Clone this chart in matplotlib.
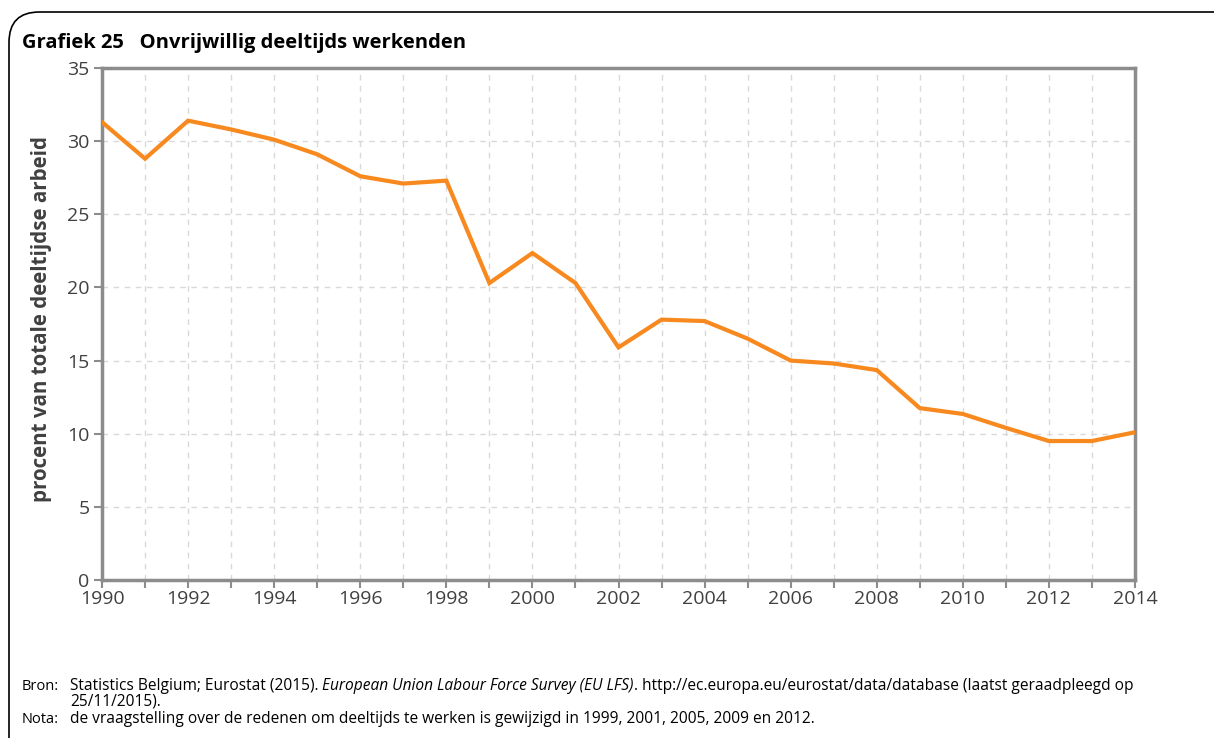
import matplotlib
matplotlib.use("Agg")
import matplotlib.pyplot as plt
from matplotlib.patches import FancyBboxPatch
from matplotlib.ticker import MultipleLocator

years = list(range(1990, 2015))
values = [31.3, 28.8, 31.4, 30.8, 30.1, 29.1, 27.6, 27.1, 27.3, 20.3,
          22.35, 20.3, 15.9, 17.8, 17.7, 16.5, 15.0, 14.8, 14.35, 11.75,
          11.35, 10.4, 9.5, 9.5, 10.1]
xtick_labels = [str(y) for y in range(1990, 2015, 2)]

W, H = 1214, 738
fig = plt.figure(figsize=(W / 100, H / 100), dpi=100)
plt.rcParams['font.family'] = ['Open Sans', 'DejaVu Sans']

# rounded frame
box = FancyBboxPatch((9 / W, 1 - 1000 / H), 1260 / W, (1000 - 12) / H,
                     boxstyle="round,pad=0,rounding_size=0.025",
                     transform=fig.transFigure, fill=False, edgecolor='black',
                     linewidth=1.2, mutation_aspect=W / H)
fig.patches.append(box)

ax = fig.add_axes([102 / W, 1 - 580 / H, (1135 - 102) / W, (580 - 68) / H])
ax.plot(years, values, color='#F7891F', linewidth=3, solid_joinstyle='miter', zorder=3)

ax.set_xlim(1990, 2014)
ax.set_ylim(0, 35)
ax.xaxis.set_minor_locator(MultipleLocator(1))
ax.yaxis.set_major_locator(MultipleLocator(5))
ax.set_xticks(range(1990, 2015, 2))
ax.set_xticklabels(xtick_labels)

ax.grid(which='both', axis='x', color='#d9d9d9', linestyle=(0, (4, 4)), linewidth=1)
ax.grid(which='major', axis='y', color='#d9d9d9', linestyle=(0, (4, 4)), linewidth=1)
ax.set_axisbelow(True)

for s in ax.spines.values():
    s.set_color('#8c8c8c')
    s.set_linewidth(2.5)

ax.tick_params(axis='x', which='both', direction='out', length=6, width=1.5,
               color='#8c8c8c', labelsize=14, labelcolor='#404040', pad=1)
ax.tick_params(axis='y', which='major', direction='out', length=6, width=1.5,
               color='#8c8c8c', labelsize=14, labelcolor='#404040', pad=3)

ax.set_ylabel('procent van totale deeltijdse arbeid', fontsize=14.8, fontweight='bold',
              color='#404040')
ax.yaxis.set_label_coords(-0.048, 0.51)

fig.text(22 / W, 1 - 48 / H, 'Grafiek 25   Onvrijwillig deeltijds werkenden',
         fontsize=14.5, fontweight='bold', color='black', va='baseline', ha='left')

fs = 11.2
y1 = 1 - 690 / H
fig.text(22 / W, y1, 'Bron:', fontsize=10.5, va='baseline')
renderer = fig.canvas.get_renderer()
parts = [('Statistics Belgium; Eurostat (2015). ', 'normal'),
         ('European Union Labour Force Survey (EU LFS)', 'italic'),
         ('. http://ec.europa.eu/eurostat/data/database (laatst geraadpleegd op', 'normal')]
xpos = 70
for txt, style in parts:
    t = fig.text(xpos / W, y1, txt, fontsize=fs, va='baseline', style=style)
    bb = t.get_window_extent(renderer=renderer)
    xpos += bb.width
fig.text(70 / W, 1 - 706 / H, '25/11/2015).', fontsize=fs, va='baseline')
fig.text(22 / W, 1 - 723 / H, 'Nota:', fontsize=10.5, va='baseline')
fig.text(70 / W, 1 - 723 / H,
         'de vraagstelling over de redenen om deeltijds te werken is gewijzigd in 1999, 2001, 2005, 2009 en 2012.',
         fontsize=fs, va='baseline')

fig.savefig('out.png', dpi=100)
